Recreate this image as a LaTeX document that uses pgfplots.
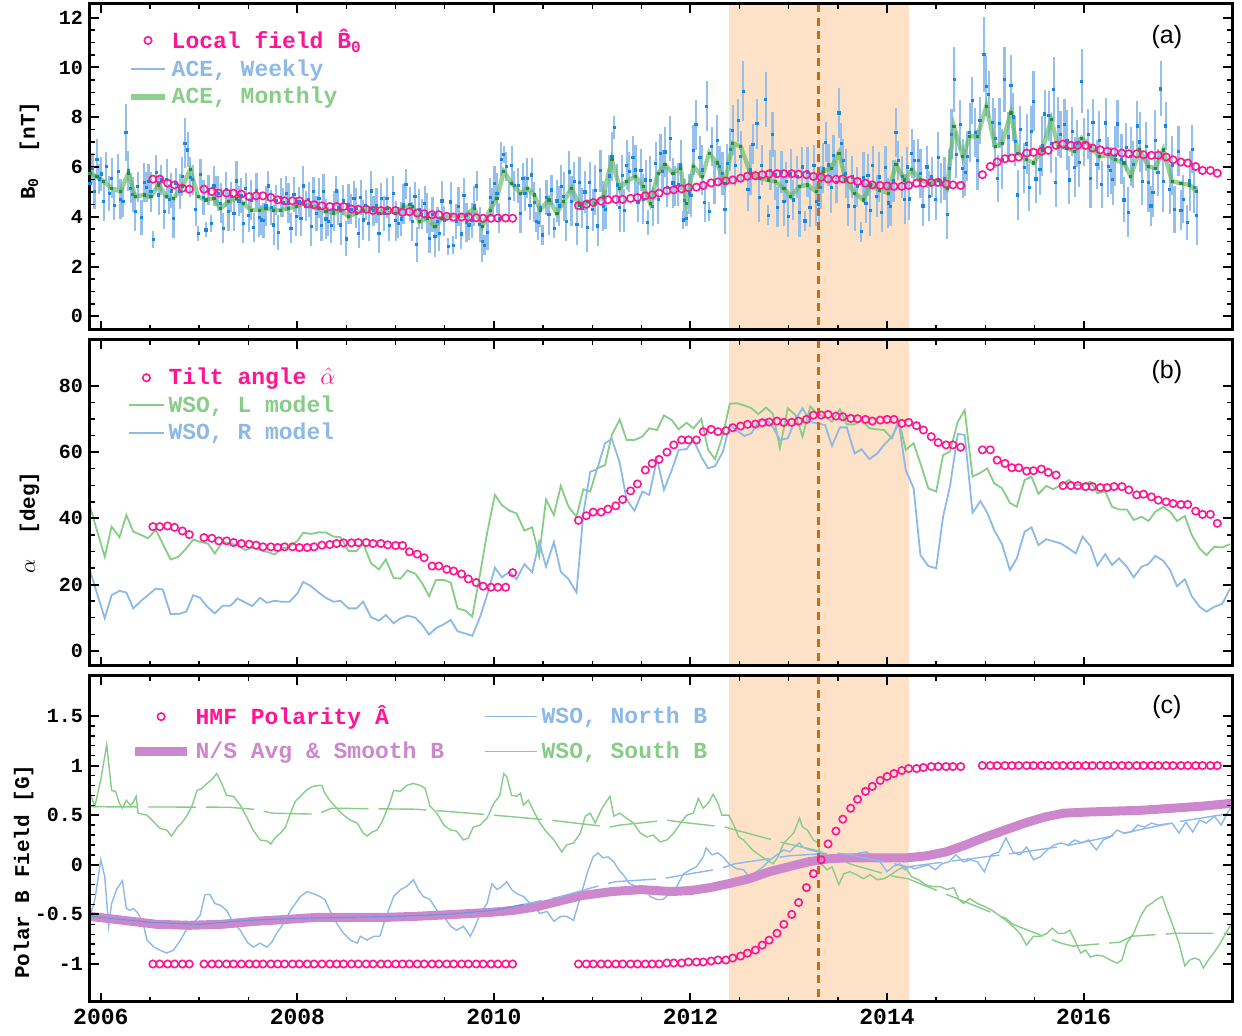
\documentclass[border=0pt]{standalone}
\usepackage{pgfplots}
\pgfplotsset{compat=1.18}
\usepackage{pgfplotstable}
\usepackage{fontspec}
\setmainfont{Liberation Mono}
\newfontfamily\hv{Liberation Sans}
\definecolor{pk}{RGB}{255,20,147}
\definecolor{lb}{RGB}{140,185,232}
\definecolor{lbw}{RGB}{150,192,236}
\definecolor{db}{RGB}{25,135,225}
\definecolor{lg}{RGB}{135,205,135}
\definecolor{mg}{RGB}{95,185,95}
\definecolor{dg}{RGB}{40,140,60}
\definecolor{pu}{RGB}{205,135,205}
\definecolor{nsm}{RGB}{120,140,215}
\definecolor{sh}{RGB}{253,226,200}
\definecolor{dor}{RGB}{205,105,15}

% ---------- circles (Carrington rotations): x, B0, alpha, polarity ----------
\pgfplotstableread{
x b a p
2006.53 5.51 37.5 -1
2006.60 5.51 37.5 -1
2006.68 5.35 37.7 -1
2006.75 5.28 37.3 -1
2006.83 5.15 36.2 -1
2006.90 5.11 35.1 -1
2007.05 5.11 34.2 -1
2007.13 5.01 34.0 -1
2007.20 4.95 33.2 -1
2007.28 4.95 33.2 -1
2007.35 4.95 32.7 -1
2007.43 4.91 32.4 -1
2007.51 4.81 32.2 -1
2007.58 4.84 31.9 -1
2007.65 4.84 31.4 -1
2007.73 4.78 31.4 -1
2007.80 4.68 31.2 -1
2007.87 4.64 31.4 -1
2007.95 4.64 31.4 -1
2008.02 4.64 31.2 -1
2008.10 4.52 31.2 -1
2008.17 4.48 31.4 -1
2008.25 4.44 31.9 -1
2008.33 4.41 32.1 -1
2008.40 4.41 32.4 -1
2008.47 4.41 32.6 -1
2008.55 4.31 32.6 -1
2008.62 4.30 32.7 -1
2008.70 4.30 32.7 -1
2008.77 4.25 32.4 -1
2008.85 4.25 32.4 -1
2008.92 4.25 32.0 -1
2009.00 4.25 31.8 -1
2009.07 4.18 31.8 -1
2009.14 4.20 29.9 -1
2009.22 4.15 29.2 -1
2009.29 4.12 28.1 -1
2009.37 4.08 25.6 -1
2009.44 4.08 25.6 -1
2009.52 4.02 24.6 -1
2009.59 3.99 24.1 -1
2009.67 3.99 23.2 -1
2009.74 3.99 21.7 -1
2009.82 3.96 20.6 -1
2009.89 3.94 19.5 -1
2009.97 3.94 19.2 -1
2010.04 3.95 19.2 -1
2010.12 3.95 19.2 -1
2010.19 3.94 23.6 -1
2010.86 4.45 39.4 -1
2010.94 4.50 40.8 -1
2011.01 4.57 41.9 -1
2011.09 4.63 41.9 -1
2011.16 4.68 42.8 -1
2011.24 4.70 43.8 -1
2011.31 4.70 45.7 -1
2011.39 4.74 48.3 -1
2011.46 4.77 50.4 -1
2011.54 4.84 54.6 -1
2011.61 4.88 56.6 -1
2011.68 4.95 57.8 -1
2011.76 5.05 60.0 -0.99
2011.83 5.08 62.2 -0.99
2011.91 5.12 63.7 -0.99
2011.98 5.17 63.7 -0.98
2012.06 5.19 63.7 -0.98
2012.13 5.26 66.2 -0.98
2012.21 5.36 66.9 -0.97
2012.28 5.40 66.2 -0.96
2012.36 5.44 66.5 -0.96
2012.43 5.48 67.4 -0.94
2012.51 5.55 67.9 -0.92
2012.58 5.63 68.4 -0.89
2012.66 5.65 68.5 -0.86
2012.73 5.69 68.9 -0.81
2012.80 5.72 69.1 -0.76
2012.88 5.73 69.4 -0.69
2012.95 5.73 69.0 -0.60
2013.03 5.73 69.0 -0.50
2013.10 5.71 69.4 -0.38
2013.18 5.69 69.9 -0.23
2013.25 5.62 71.2 -0.09
2013.33 5.59 71.2 0.05
2013.40 5.52 71.4 0.21
2013.48 5.51 70.9 0.34
2013.55 5.52 70.7 0.46
2013.63 5.48 70.2 0.57
2013.70 5.42 70.1 0.66
2013.78 5.35 69.9 0.74
2013.85 5.28 69.4 0.79
2013.93 5.26 69.7 0.85
2014.00 5.24 69.9 0.89
2014.07 5.22 69.9 0.92
2014.15 5.22 68.7 0.95
2014.22 5.26 69.0 0.97
2014.30 5.35 68.0 0.97
2014.37 5.35 66.7 0.98
2014.45 5.38 64.7 0.99
2014.52 5.38 62.9 0.99
2014.60 5.32 62.2 0.99
2014.67 5.28 62.2 0.99
2014.75 5.26 61.5 0.99
2014.97 5.69 60.7 1
2015.05 6.02 60.7 1
2015.12 6.20 57.6 1
2015.20 6.33 56.6 1
2015.27 6.36 55.3 1
2015.34 6.40 55.3 1
2015.42 6.56 54.3 1
2015.49 6.59 54.4 1
2015.57 6.63 54.9 1
2015.64 6.67 53.9 1
2015.72 6.87 53.1 1
2015.79 6.92 49.9 1
2015.87 6.87 49.9 1
2015.94 6.87 49.9 1
2016.02 6.87 49.6 1
2016.09 6.76 49.6 1
2016.17 6.69 49.3 1
2016.24 6.63 49.3 1
2016.31 6.60 49.6 1
2016.39 6.56 49.6 1
2016.46 6.53 48.6 1
2016.54 6.53 47.1 1
2016.61 6.49 47.3 1
2016.69 6.47 46.5 1
2016.76 6.47 45.5 1
2016.84 6.40 45.0 1
2016.91 6.29 44.5 1
2016.99 6.20 44.2 1
2017.06 6.16 44.2 1
2017.14 6.02 42.2 1
2017.21 5.86 41.2 1
2017.29 5.86 41.2 1
2017.36 5.75 38.5 1
}\tabCR

% ---------- ACE monthly ----------
\pgfplotstableread{
x y
2005.89 5.75
2005.96 5.62
2006.03 5.42
2006.11 5.15
2006.20 5.01
2006.28 5.75
2006.35 4.81
2006.44 4.88
2006.51 4.81
2006.59 5.28
2006.67 4.81
2006.74 4.74
2006.83 5.22
2006.91 5.89
2006.99 4.81
2007.07 4.68
2007.15 4.74
2007.22 4.34
2007.30 4.61
2007.38 4.74
2007.45 4.54
2007.53 4.27
2007.61 4.27
2007.68 4.34
2007.76 4.27
2007.83 4.27
2007.91 4.34
2007.99 4.41
2008.06 4.54
2008.14 4.41
2008.22 4.34
2008.29 4.21
2008.37 4.14
2008.44 4.27
2008.52 4.01
2008.60 4.14
2008.67 4.27
2008.75 4.34
2008.83 4.14
2008.91 4.34
2009.00 4.14
2009.08 4.41
2009.17 4.41
2009.24 3.80
2009.32 3.94
2009.40 3.60
2009.47 3.94
2009.56 4.07
2009.64 4.01
2009.72 4.07
2009.80 4.34
2009.88 3.60
2009.96 4.27
2010.03 4.74
2010.10 5.82
2010.18 5.35
2010.27 4.95
2010.34 5.15
2010.41 4.88
2010.47 4.27
2010.56 4.68
2010.64 4.14
2010.71 4.61
2010.79 5.15
2010.87 4.48
2010.95 4.61
2011.03 4.54
2011.11 4.81
2011.20 6.29
2011.28 5.15
2011.35 5.42
2011.44 5.62
2011.52 5.22
2011.59 4.54
2011.67 5.75
2011.74 6.09
2011.82 5.75
2011.90 5.95
2011.96 4.54
2012.03 6.02
2012.12 5.62
2012.19 6.56
2012.27 6.16
2012.35 5.35
2012.43 6.96
2012.51 6.83
2012.61 5.75
2012.70 5.55
2012.79 5.48
2012.86 5.42
2012.95 5.15
2013.02 4.81
2013.11 5.22
2013.19 5.28
2013.28 5.01
2013.35 5.82
2013.43 5.95
2013.51 6.56
2013.58 5.48
2013.67 4.95
2013.76 4.68
2013.83 5.28
2013.92 5.08
2014.01 4.95
2014.09 6.09
2014.18 5.48
2014.25 5.89
2014.34 5.48
2014.43 5.35
2014.52 5.48
2014.61 5.15
2014.68 7.63
2014.77 6.42
2014.84 7.23
2014.92 7.23
2015.01 8.44
2015.10 6.83
2015.17 6.96
2015.26 8.17
2015.33 6.56
2015.42 6.29
2015.49 6.16
2015.58 6.69
2015.67 7.90
2015.74 6.83
2015.83 6.76
2015.91 6.63
2015.98 7.16
2016.07 6.83
2016.16 6.42
2016.25 6.49
2016.32 6.29
2016.41 6.16
2016.48 5.62
2016.57 6.69
2016.66 6.02
2016.73 5.95
2016.81 6.69
2016.90 5.42
2016.99 5.35
2017.08 5.28
2017.15 5.01
}\tabM

% ---------- ACE weekly: x, y, error ----------
\pgfplotstableread{
x y e
2005.865 6.25 0.7
2005.890 5.35 0.8
2005.915 5.95 0.6
2005.935 5.02 0.7
2005.960 6.32 0.8
2005.985 5.52 0.6
2006.005 5.72 0.7
2006.030 4.62 0.8
2006.055 6.02 0.6
2006.085 4.95 0.7
2006.110 5.55 0.8
2006.135 4.45 0.6
2006.175 5.81 0.7
2006.200 4.71 0.8
2006.225 4.61 0.6
2006.255 7.39 1.15
2006.280 5.85 0.8
2006.305 5.15 0.6
2006.325 4.91 0.7
2006.350 4.21 0.8
2006.375 5.21 0.6
2006.415 3.98 0.7
2006.440 5.38 0.8
2006.465 5.18 0.6
2006.485 5.41 0.7
2006.510 5.01 0.8
2006.535 3.09 0.35
2006.565 5.78 0.7
2006.590 4.88 0.8
2006.615 5.48 0.6
2006.645 4.21 0.7
2006.670 5.51 0.8
2006.695 4.71 0.6
2006.715 5.04 0.7
2006.740 3.94 0.8
2006.765 5.34 0.6
2006.805 5.02 0.7
2006.830 5.62 0.8
2006.855 6.96 1.0
2006.885 6.69 0.7
2006.910 5.59 0.8
2006.935 5.49 0.6
2006.965 4.31 0.7
2006.990 3.33 0.3
2007.015 5.71 0.6
2007.045 4.78 0.7
2007.070 3.47 0.3
2007.095 5.08 0.6
2007.125 3.74 0.35
2007.150 5.24 0.8
2007.175 5.04 0.6
2007.195 4.94 0.7
2007.220 4.54 0.8
2007.245 3.54 0.6
2007.275 5.11 0.7
2007.300 4.21 0.8
2007.325 4.81 0.6
2007.355 4.14 0.7
2007.380 5.44 0.8
2007.405 4.64 0.6
2007.425 4.84 0.7
2007.450 3.74 0.8
2007.475 5.14 0.6
2007.505 4.07 0.7
2007.530 4.67 0.8
2007.555 3.57 0.6
2007.585 5.07 0.7
2007.610 3.97 0.8
2007.635 3.87 0.6
2007.655 3.84 0.7
2007.680 4.44 0.8
2007.705 5.24 0.6
2007.735 4.37 0.7
2007.760 3.67 0.8
2007.785 4.67 0.6
2007.805 3.37 0.7
2007.830 4.77 0.8
2007.855 4.57 0.6
2007.885 4.94 0.7
2007.910 4.54 0.8
2007.935 3.54 0.6
2007.965 4.91 0.7
2007.990 4.01 0.8
2008.015 4.61 0.6
2008.035 3.94 0.7
2008.060 5.24 0.8
2008.085 4.44 0.6
2008.115 4.71 0.7
2008.140 3.61 0.8
2008.165 5.01 0.6
2008.195 4.14 0.7
2008.220 4.74 0.8
2008.245 3.64 0.6
2008.265 5.01 0.7
2008.290 3.91 0.8
2008.315 3.81 0.6
2008.345 3.64 0.7
2008.370 4.24 0.8
2008.395 5.04 0.6
2008.415 4.37 0.7
2008.440 3.67 0.8
2008.465 4.67 0.6
2008.495 3.11 0.7
2008.520 4.51 0.8
2008.545 4.31 0.6
2008.575 4.74 0.7
2008.600 4.34 0.8
2008.625 3.34 0.6
2008.645 4.77 0.7
2008.670 3.87 0.8
2008.695 4.47 0.6
2008.725 3.74 0.7
2008.750 5.04 0.8
2008.775 4.24 0.6
2008.805 4.44 0.7
2008.830 3.34 0.8
2008.855 4.74 0.6
2008.885 4.14 0.7
2008.910 4.74 0.8
2008.935 3.64 0.6
2008.975 4.94 0.7
2009.000 3.84 0.8
2009.025 3.74 0.6
2009.055 3.91 0.7
2009.080 4.51 0.8
2009.105 5.31 0.6
2009.145 4.51 0.7
2009.170 3.81 0.8
2009.195 4.81 0.6
2009.215 2.90 0.7
2009.240 4.30 0.8
2009.265 4.10 0.6
2009.295 4.54 0.7
2009.320 4.14 0.8
2009.345 3.14 0.6
2009.375 4.10 0.7
2009.400 3.20 0.8
2009.425 3.80 0.6
2009.445 3.34 0.7
2009.470 4.64 0.8
2009.495 3.84 0.6
2009.535 2.80 0.35
2009.560 4.60 0.8
2009.585 2.86 0.35
2009.615 3.81 0.7
2009.640 4.41 0.8
2009.665 3.31 0.6
2009.695 4.87 0.7
2009.720 3.77 0.8
2009.745 3.67 0.6
2009.775 3.84 0.7
2009.800 4.44 0.8
2009.825 5.24 0.6
2009.855 3.70 0.7
2009.880 3.00 0.8
2009.905 2.86 0.4
2009.935 3.37 0.7
2009.960 4.77 0.8
2009.985 4.57 0.6
2010.005 5.34 0.7
2010.030 4.94 0.8
2010.055 3.94 0.6
2010.075 6.32 0.7
2010.100 6.49 0.35
2010.125 6.02 0.6
2010.155 4.75 0.7
2010.180 6.05 0.8
2010.205 5.25 0.6
2010.245 5.25 0.7
2010.270 4.15 0.8
2010.295 5.55 0.6
2010.315 4.95 0.7
2010.340 5.55 0.8
2010.365 4.45 0.6
2010.385 5.68 0.7
2010.410 4.58 0.8
2010.430 3.80 0.4
2010.450 3.77 0.7
2010.470 4.37 0.8
2010.495 3.27 0.4
2010.535 4.78 0.7
2010.560 4.08 0.8
2010.585 5.08 0.6
2010.615 3.53 0.4
2010.640 4.64 0.85
2010.665 4.44 0.8
2010.685 5.21 0.85
2010.710 4.81 1.0
2010.735 3.81 0.8
2010.765 5.80 0.85
2010.790 4.63 1.0
2010.815 5.41 0.8
2010.845 3.70 0.85
2010.870 5.39 1.0
2010.895 4.35 0.8
2010.925 5.00 0.85
2010.950 3.57 1.0
2010.975 5.39 0.8
2011.005 4.28 0.85
2011.030 5.06 1.0
2011.055 3.63 0.8
2011.085 5.85 0.85
2011.110 4.42 1.0
2011.135 4.29 0.8
2011.175 5.64 0.85
2011.200 6.42 1.0
2011.225 7.59 0.45
2011.255 5.28 0.85
2011.280 4.37 1.0
2011.305 5.67 0.8
2011.325 4.25 0.85
2011.350 6.07 1.0
2011.375 5.81 0.8
2011.415 6.40 0.85
2011.440 5.88 1.0
2011.465 4.58 0.8
2011.495 5.87 0.85
2011.520 4.70 1.0
2011.545 5.48 0.8
2011.565 3.76 0.5
2011.590 5.45 1.0
2011.615 4.41 0.8
2011.645 6.14 0.85
2011.670 4.71 1.0
2011.695 6.53 0.8
2011.715 5.83 0.85
2011.740 6.61 1.0
2011.765 5.18 0.8
2011.795 7.16 0.9
2011.820 5.36 1.0
2011.845 5.23 0.8
2011.875 5.30 0.85
2011.900 6.08 1.0
2011.925 3.87 0.35
2011.940 4.67 0.85
2011.960 3.94 0.3
2011.985 4.93 0.8
2012.005 4.85 0.85
2012.030 6.67 1.0
2012.055 7.70 1.0
2012.095 6.40 0.85
2012.120 5.88 1.0
2012.145 4.58 0.8
2012.165 8.44 1.0
2012.190 4.21 0.4
2012.215 6.82 0.8
2012.245 5.38 0.85
2012.270 7.07 1.0
2012.295 6.03 0.8
2012.325 5.74 0.85
2012.350 4.31 1.0
2012.375 6.13 0.8
2012.405 6.70 0.85
2012.430 7.48 1.0
2012.455 6.05 0.8
2012.485 7.87 0.85
2012.510 6.44 1.0
2012.535 9.05 1.2
2012.585 5.10 0.85
2012.610 5.88 1.0
2012.635 6.92 0.8
2012.675 7.74 1.0
2012.700 4.77 1.0
2012.725 6.07 0.8
2012.765 8.71 1.1
2012.790 4.07 0.4
2012.815 5.87 0.8
2012.835 7.30 0.9
2012.860 5.68 1.0
2012.885 4.38 0.8
2012.925 5.80 0.85
2012.950 4.63 1.0
2012.975 5.41 0.8
2012.995 4.03 0.85
2013.020 5.72 1.0
2013.045 4.68 0.8
2013.085 5.61 0.85
2013.110 4.18 1.0
2013.135 6.00 0.8
2013.165 3.83 0.4
2013.190 5.80 1.0
2013.215 4.37 0.8
2013.255 6.05 0.85
2013.280 4.62 1.0
2013.305 4.49 0.8
2013.325 5.17 0.85
2013.350 5.95 1.0
2013.375 6.99 0.8
2013.405 6.08 0.85
2013.430 5.17 1.0
2013.455 6.47 0.8
2013.485 5.39 0.85
2013.510 8.17 1.0
2013.535 6.95 0.8
2013.555 6.26 0.85
2013.580 5.74 1.0
2013.605 4.44 0.8
2013.645 5.60 0.85
2013.670 4.43 1.0
2013.695 5.21 0.8
2013.735 3.40 0.4
2013.760 5.59 1.0
2013.785 4.55 0.8
2013.805 5.67 0.85
2013.830 4.24 1.0
2013.855 6.06 0.8
2013.895 4.82 0.85
2013.920 5.60 1.0
2013.945 4.17 0.8
2013.985 5.99 0.85
2014.010 4.56 1.0
2014.035 4.43 0.8
2014.065 5.44 0.85
2014.090 7.39 1.0
2014.115 6.26 0.8
2014.155 5.61 0.85
2014.180 4.70 1.0
2014.205 6.00 0.8
2014.225 4.72 0.85
2014.250 6.54 1.0
2014.275 6.28 0.8
2014.315 6.26 0.85
2014.340 5.74 1.0
2014.365 4.44 0.8
2014.405 6.00 0.85
2014.430 4.83 1.0
2014.455 5.61 0.8
2014.495 4.70 0.85
2014.520 6.39 1.0
2014.545 5.35 0.8
2014.585 5.54 0.85
2014.610 4.11 1.0
2014.635 5.93 0.8
2014.655 7.31 1.0
2014.685 9.52 1.3
2014.705 6.51 0.95
2014.745 7.70 1.0
2014.770 5.94 1.2
2014.795 5.78 0.95
2014.815 6.43 1.0
2014.840 7.39 1.2
2014.865 8.67 0.95
2014.895 7.39 1.0
2014.920 6.27 1.2
2014.945 7.87 0.95
2014.985 10.52 1.5
2015.010 9.24 1.2
2015.035 8.92 0.95
2015.075 7.79 1.0
2015.100 7.15 1.2
2015.125 5.55 0.95
2015.145 7.76 1.0
2015.170 6.32 1.2
2015.195 9.52 1.3
2015.235 7.21 1.0
2015.260 9.29 1.2
2015.285 8.01 0.95
2015.305 7.04 1.0
2015.330 4.88 1.0
2015.355 7.52 0.95
2015.395 5.97 1.0
2015.420 6.93 1.2
2015.445 5.17 0.95
2015.465 7.44 1.0
2015.490 8.64 1.2
2015.515 5.52 0.95
2015.555 5.89 1.0
2015.580 6.85 1.2
2015.605 8.13 0.95
2015.645 8.06 1.0
2015.670 6.94 1.2
2015.695 9.11 1.3
2015.715 5.39 1.0
2015.740 7.63 1.2
2015.765 7.31 0.95
2015.805 7.72 1.0
2015.830 7.08 1.2
2015.855 5.48 0.95
2015.885 7.43 1.0
2015.910 5.99 1.2
2015.935 6.95 0.95
2015.955 6.20 1.0
2015.980 9.45 1.3
2016.005 7.00 0.95
2016.045 7.31 1.0
2016.070 5.55 1.2
2016.095 7.79 0.95
2016.135 6.10 1.0
2016.160 7.06 1.2
2016.185 5.30 0.95
2016.225 7.77 1.0
2016.250 6.01 1.2
2016.275 5.85 0.95
2016.295 5.49 1.0
2016.320 6.45 1.2
2016.345 7.73 0.95
2016.385 6.32 1.0
2016.410 4.68 0.9
2016.435 6.80 0.95
2016.455 4.18 1.0
2016.480 6.42 1.2
2016.505 6.10 0.95
2016.545 7.65 1.0
2016.570 7.01 1.2
2016.595 5.41 0.95
2016.635 6.82 1.0
2016.660 5.38 1.2
2016.685 4.44 0.8
2016.705 4.99 1.0
2016.730 7.07 1.2
2016.755 5.79 0.95
2016.785 9.14 1.1
2016.810 5.41 1.2
2016.835 7.65 0.95
2016.875 5.10 1.0
2016.900 6.06 1.2
2016.925 4.30 0.95
2016.965 6.63 1.0
2016.990 4.27 0.8
2017.015 4.71 0.95
2017.055 3.76 0.7
2017.080 5.44 1.2
2017.105 6.72 0.95
2017.125 5.17 1.0
2017.150 4.05 1.2
}\tabW

% ---------- WSO tilt, L model ----------
\pgfplotstableread{
x y
2005.89 43.5
2006.04 28.4
2006.11 37.5
2006.19 34.3
2006.26 41.0
2006.33 36.0
2006.41 35.0
2006.48 34.0
2006.56 36.5
2006.71 27.6
2006.79 28.4
2006.87 30.9
2006.94 33.6
2007.01 32.9
2007.09 32.4
2007.16 29.4
2007.24 32.9
2007.32 32.4
2007.39 31.9
2007.47 30.4
2007.54 31.2
2007.62 30.4
2007.69 29.9
2007.77 29.1
2007.84 30.9
2007.92 31.4
2008.00 33.2
2008.06 35.7
2008.14 35.3
2008.22 35.8
2008.29 35.7
2008.37 34.5
2008.44 34.3
2008.52 30.1
2008.60 30.1
2008.67 32.4
2008.75 26.4
2008.83 24.6
2008.90 27.6
2008.98 22.0
2009.05 21.8
2009.12 24.3
2009.20 23.3
2009.27 20.4
2009.34 16.5
2009.41 21.4
2009.49 21.4
2009.56 20.6
2009.63 12.8
2009.71 12.1
2009.78 10.3
2009.86 23.4
2009.93 35.5
2010.01 47.1
2010.08 44.0
2010.16 42.3
2010.23 41.5
2010.31 36.3
2010.39 37.3
2010.46 28.6
2010.53 45.7
2010.61 41.0
2010.68 49.8
2010.76 43.5
2010.84 40.5
2010.91 48.8
2010.98 48.1
2011.05 55.1
2011.13 56.1
2011.20 65.2
2011.28 69.9
2011.35 63.7
2011.43 63.7
2011.51 64.7
2011.58 67.2
2011.66 66.7
2011.73 71.1
2011.81 69.7
2011.88 66.9
2011.96 68.9
2012.03 67.2
2012.11 70.0
2012.18 60.7
2012.25 57.9
2012.33 65.2
2012.40 74.6
2012.47 74.8
2012.55 74.1
2012.62 73.3
2012.69 71.5
2012.77 73.5
2012.84 71.5
2012.91 61.2
2012.99 73.3
2013.07 71.2
2013.14 64.7
2013.22 73.8
2013.29 71.5
2013.37 70.7
2013.44 69.2
2013.52 73.0
2013.59 68.4
2013.67 68.4
2013.74 69.7
2013.82 67.2
2013.90 66.9
2013.97 66.7
2014.05 64.2
2014.12 69.7
2014.19 60.7
2014.27 62.7
2014.34 56.6
2014.42 49.1
2014.50 48.1
2014.57 59.1
2014.64 60.2
2014.72 69.2
2014.79 72.7
2014.87 52.6
2014.95 53.8
2015.02 55.1
2015.09 50.6
2015.17 49.1
2015.25 44.7
2015.32 43.5
2015.40 51.6
2015.47 52.6
2015.54 47.4
2015.62 49.8
2015.69 48.8
2015.77 50.1
2015.85 51.6
2015.92 50.1
2015.99 50.1
2016.07 51.1
2016.14 47.6
2016.22 48.1
2016.29 43.5
2016.36 42.7
2016.44 42.7
2016.51 39.5
2016.59 40.5
2016.66 39.2
2016.73 42.0
2016.81 43.5
2016.88 42.0
2016.95 39.2
2017.03 40.7
2017.10 35.0
2017.18 30.9
2017.25 28.9
2017.33 31.4
2017.41 31.2
2017.49 32.2
}\tabL

% ---------- WSO tilt, R model ----------
\pgfplotstableread{
x y
2005.89 24.2
2006.04 9.8
2006.11 16.8
2006.19 18.1
2006.26 17.6
2006.33 12.8
2006.41 15.1
2006.48 16.8
2006.56 18.8
2006.63 18.5
2006.71 11.1
2006.79 11.1
2006.87 11.8
2006.94 16.8
2007.01 16.0
2007.09 13.1
2007.16 11.3
2007.24 13.6
2007.32 13.6
2007.39 15.8
2007.47 14.6
2007.54 13.5
2007.62 16.0
2007.69 14.5
2007.77 15.1
2007.84 14.8
2007.92 14.8
2008.00 17.3
2008.06 20.8
2008.14 19.5
2008.22 17.5
2008.29 16.0
2008.37 14.8
2008.44 15.1
2008.52 12.8
2008.60 12.8
2008.67 14.8
2008.75 10.1
2008.83 9.1
2008.90 10.8
2008.98 8.3
2009.05 9.8
2009.12 10.6
2009.20 10.0
2009.27 7.8
2009.34 4.9
2009.41 6.8
2009.49 8.0
2009.56 9.3
2009.63 5.9
2009.71 5.2
2009.78 4.5
2009.86 10.3
2009.93 16.8
2010.01 25.1
2010.08 22.2
2010.16 23.9
2010.23 21.6
2010.31 26.2
2010.39 23.7
2010.46 32.9
2010.53 25.4
2010.61 32.9
2010.68 23.9
2010.76 21.6
2010.84 17.6
2010.91 41.5
2010.98 54.1
2011.05 54.8
2011.13 62.7
2011.20 64.0
2011.28 56.8
2011.35 45.7
2011.43 42.3
2011.51 48.1
2011.58 47.1
2011.66 57.9
2011.73 48.6
2011.81 54.6
2011.88 60.7
2011.96 60.9
2012.03 63.7
2012.11 58.6
2012.18 55.1
2012.25 55.8
2012.33 60.2
2012.40 68.2
2012.47 66.5
2012.55 64.9
2012.62 65.7
2012.69 69.2
2012.77 69.9
2012.84 67.5
2012.91 63.7
2012.99 64.2
2013.07 70.0
2013.14 73.3
2013.22 69.2
2013.29 68.7
2013.37 68.2
2013.44 61.9
2013.52 67.5
2013.59 67.5
2013.67 59.6
2013.74 60.9
2013.82 57.9
2013.90 59.6
2013.97 62.2
2014.05 64.7
2014.12 68.7
2014.19 54.6
2014.27 49.1
2014.34 28.9
2014.42 25.6
2014.50 24.9
2014.57 40.5
2014.64 49.6
2014.72 65.5
2014.79 65.2
2014.87 41.7
2014.95 45.2
2015.02 41.7
2015.09 36.5
2015.17 32.2
2015.25 24.4
2015.32 27.9
2015.40 36.0
2015.47 37.3
2015.54 31.9
2015.62 33.7
2015.69 33.1
2015.77 32.4
2015.85 30.9
2015.92 29.4
2015.99 34.5
2016.07 31.6
2016.14 25.7
2016.22 29.2
2016.29 25.9
2016.36 27.9
2016.44 25.4
2016.51 22.2
2016.59 25.4
2016.66 26.2
2016.73 28.7
2016.81 27.2
2016.88 24.4
2016.95 19.5
2017.03 21.6
2017.10 16.5
2017.18 13.3
2017.25 11.8
2017.33 13.3
2017.41 14.1
2017.49 18.8
}\tabR

% ---------- WSO South polar field ----------
\pgfplotstableread{
x y
2005.89 0.72
2005.94 0.59
2006.00 0.86
2006.06 1.21
2006.11 0.75
2006.15 0.74
2006.19 0.62
2006.22 0.57
2006.26 0.65
2006.30 0.60
2006.33 0.63
2006.36 0.69
2006.38 0.52
2006.47 0.50
2006.54 0.43
2006.60 0.37
2006.67 0.35
2006.72 0.29
2006.78 0.38
2006.83 0.43
2006.88 0.50
2006.93 0.60
2006.98 0.75
2007.03 0.77
2007.08 0.82
2007.13 0.86
2007.18 0.92
2007.23 0.82
2007.28 0.70
2007.35 0.69
2007.42 0.60
2007.49 0.47
2007.55 0.35
2007.62 0.25
2007.69 0.24
2007.73 0.21
2007.78 0.28
2007.83 0.32
2007.88 0.38
2007.93 0.52
2007.98 0.64
2008.03 0.69
2008.10 0.76
2008.16 0.79
2008.22 0.80
2008.25 0.80
2008.28 0.72
2008.33 0.65
2008.40 0.57
2008.47 0.50
2008.54 0.45
2008.61 0.42
2008.67 0.32
2008.71 0.29
2008.76 0.33
2008.81 0.35
2008.86 0.43
2008.91 0.55
2008.94 0.62
2008.98 0.75
2009.05 0.74
2009.11 0.80
2009.18 0.82
2009.25 0.80
2009.30 0.77
2009.35 0.59
2009.42 0.52
2009.49 0.40
2009.56 0.35
2009.62 0.34
2009.69 0.25
2009.74 0.27
2009.79 0.38
2009.86 0.40
2009.93 0.47
2010.00 0.62
2010.06 0.70
2010.10 0.92
2010.13 0.89
2010.18 0.70
2010.23 0.69
2010.27 0.72
2010.30 0.60
2010.35 0.65
2010.40 0.55
2010.45 0.45
2010.52 0.35
2010.61 0.25
2010.69 0.13
2010.74 0.20
2010.81 0.22
2010.88 0.32
2010.93 0.49
2010.98 0.52
2011.03 0.42
2011.10 0.57
2011.18 0.69
2011.22 0.49
2011.28 0.52
2011.35 0.47
2011.42 0.42
2011.49 0.32
2011.56 0.28
2011.62 0.30
2011.69 0.23
2011.76 0.25
2011.83 0.32
2011.90 0.42
2011.96 0.50
2012.03 0.52
2012.08 0.67
2012.13 0.57
2012.18 0.62
2012.23 0.71
2012.28 0.62
2012.32 0.50
2012.39 0.50
2012.45 0.38
2012.49 0.28
2012.54 0.25
2012.63 0.15
2012.70 0.10
2012.77 0.05
2012.84 0.01
2012.89 0.08
2012.95 0.22
2013.00 0.27
2013.05 0.32
2013.11 0.47
2013.14 0.38
2013.19 0.35
2013.25 0.25
2013.30 0.22
2013.33 0.01
2013.39 -0.05
2013.44 -0.02
2013.51 -0.20
2013.56 -0.09
2013.62 -0.07
2013.69 -0.10
2013.76 -0.14
2013.83 -0.10
2013.90 -0.15
2013.97 -0.14
2014.04 -0.10
2014.11 -0.05
2014.18 -0.02
2014.25 -0.12
2014.32 -0.15
2014.39 -0.20
2014.46 -0.22
2014.54 -0.22
2014.61 -0.25
2014.68 -0.23
2014.73 -0.35
2014.78 -0.39
2014.84 -0.34
2014.92 -0.39
2014.99 -0.42
2015.07 -0.46
2015.14 -0.51
2015.21 -0.56
2015.28 -0.62
2015.35 -0.69
2015.42 -0.81
2015.49 -0.72
2015.56 -0.72
2015.63 -0.69
2015.68 -0.64
2015.74 -0.69
2015.81 -0.69
2015.86 -0.66
2015.91 -0.76
2015.97 -0.89
2016.02 -0.86
2016.07 -0.93
2016.13 -0.91
2016.20 -0.92
2016.27 -0.96
2016.34 -0.99
2016.39 -0.96
2016.44 -0.79
2016.51 -0.69
2016.58 -0.52
2016.64 -0.42
2016.69 -0.39
2016.74 -0.35
2016.80 -0.32
2016.85 -0.46
2016.90 -0.59
2016.97 -0.79
2017.03 -1.02
2017.08 -0.96
2017.13 -0.94
2017.18 -0.96
2017.22 -1.04
2017.27 -0.96
2017.33 -0.88
2017.38 -0.81
2017.43 -0.72
2017.50 -0.60
}\tabS

% ---------- WSO North polar field ----------
\pgfplotstableread{
x y
2005.89 -0.52
2005.94 -0.35
2006.00 0.05
2006.04 -0.12
2006.08 -0.62
2006.11 -0.39
2006.16 -0.25
2006.22 -0.16
2006.26 -0.44
2006.30 -0.46
2006.33 -0.44
2006.38 -0.49
2006.43 -0.59
2006.47 -0.76
2006.54 -0.83
2006.60 -0.86
2006.67 -0.89
2006.74 -0.86
2006.81 -0.76
2006.88 -0.64
2006.94 -0.59
2007.01 -0.51
2007.06 -0.30
2007.11 -0.30
2007.16 -0.39
2007.22 -0.41
2007.28 -0.46
2007.35 -0.59
2007.42 -0.66
2007.49 -0.78
2007.55 -0.83
2007.62 -0.79
2007.69 -0.83
2007.74 -0.78
2007.79 -0.69
2007.86 -0.59
2007.93 -0.46
2007.98 -0.39
2008.03 -0.32
2008.10 -0.27
2008.16 -0.29
2008.23 -0.32
2008.28 -0.35
2008.33 -0.46
2008.40 -0.59
2008.47 -0.69
2008.54 -0.76
2008.61 -0.79
2008.64 -0.72
2008.71 -0.76
2008.78 -0.72
2008.84 -0.72
2008.89 -0.56
2008.98 -0.32
2009.05 -0.25
2009.11 -0.22
2009.18 -0.15
2009.23 -0.25
2009.28 -0.32
2009.35 -0.35
2009.42 -0.46
2009.49 -0.52
2009.56 -0.62
2009.62 -0.66
2009.69 -0.62
2009.76 -0.72
2009.81 -0.62
2009.86 -0.49
2009.93 -0.39
2009.98 -0.19
2010.03 -0.25
2010.08 -0.22
2010.13 -0.17
2010.18 -0.25
2010.23 -0.29
2010.30 -0.32
2010.37 -0.39
2010.44 -0.46
2010.47 -0.49
2010.54 -0.47
2010.61 -0.57
2010.68 -0.52
2010.74 -0.52
2010.81 -0.56
2010.86 -0.39
2010.91 -0.22
2010.96 -0.05
2011.01 0.08
2011.06 0.12
2011.11 0.07
2011.16 0.08
2011.22 0.03
2011.27 -0.05
2011.33 -0.12
2011.38 -0.19
2011.45 -0.22
2011.52 -0.22
2011.59 -0.32
2011.66 -0.35
2011.72 -0.35
2011.79 -0.29
2011.86 -0.22
2011.93 -0.09
2012.00 -0.05
2012.06 -0.02
2012.13 0.08
2012.16 0.17
2012.22 0.10
2012.28 0.12
2012.33 0.08
2012.40 0.00
2012.47 -0.04
2012.54 -0.05
2012.61 -0.14
2012.67 -0.07
2012.74 -0.02
2012.81 0.05
2012.88 0.10
2012.95 0.15
2013.01 0.13
2013.08 0.20
2013.11 0.22
2013.14 0.18
2013.21 0.15
2013.30 0.13
2013.36 0.10
2013.44 0.05
2013.51 0.08
2013.58 0.10
2013.65 0.10
2013.72 0.12
2013.79 0.13
2013.86 0.08
2013.93 0.03
2014.00 -0.07
2014.06 -0.02
2014.13 0.01
2014.18 -0.05
2014.23 -0.02
2014.28 -0.04
2014.35 -0.02
2014.42 0.00
2014.49 -0.05
2014.56 0.01
2014.63 0.03
2014.70 0.10
2014.78 0.03
2014.85 0.05
2014.92 0.03
2014.99 -0.07
2015.06 0.10
2015.14 0.13
2015.21 0.27
2015.28 0.13
2015.35 0.10
2015.42 0.18
2015.49 0.05
2015.56 0.08
2015.63 0.15
2015.70 0.20
2015.77 0.22
2015.84 0.20
2015.91 0.25
2015.98 0.22
2016.05 0.25
2016.13 0.15
2016.20 0.25
2016.27 0.28
2016.34 0.35
2016.41 0.32
2016.48 0.33
2016.55 0.40
2016.62 0.38
2016.69 0.42
2016.76 0.40
2016.83 0.41
2016.90 0.42
2016.97 0.32
2017.04 0.43
2017.11 0.33
2017.18 0.45
2017.25 0.42
2017.33 0.49
2017.40 0.40
2017.46 0.52
2017.51 0.59
}\tabN

% ---------- smoothed fields ----------
\pgfplotstableread{
x y
2005.89 -0.52
2006.23 -0.56
2006.57 -0.60
2006.90 -0.61
2007.23 -0.60
2007.57 -0.57
2007.90 -0.55
2008.20 -0.53
2008.50 -0.53
2008.90 -0.53
2009.20 -0.52
2009.60 -0.50
2009.96 -0.48
2010.20 -0.46
2010.45 -0.42
2010.69 -0.36
2010.90 -0.31
2011.20 -0.27
2011.50 -0.25
2011.80 -0.27
2012.00 -0.26
2012.20 -0.23
2012.39 -0.19
2012.60 -0.14
2012.80 -0.07
2013.00 -0.02
2013.20 0.03
2013.40 0.06
2013.60 0.07
2013.80 0.07
2014.00 0.07
2014.20 0.07
2014.40 0.09
2014.60 0.13
2014.80 0.20
2015.00 0.28
2015.20 0.35
2015.40 0.42
2015.60 0.48
2015.80 0.52
2016.00 0.53
2016.30 0.54
2016.60 0.55
2016.90 0.57
2017.20 0.59
2017.51 0.62
}\tabAvg

\pgfplotstableread{
x y
2005.89 -0.52
2006.50 -0.58
2007.00 -0.60
2007.50 -0.56
2008.00 -0.54
2008.50 -0.53
2009.00 -0.52
2009.50 -0.50
2010.00 -0.46
2010.30 -0.40
2010.68 -0.32
2011.11 -0.20
2011.24 -0.17
2011.72 -0.14
2011.94 -0.10
2012.30 -0.04
2012.45 0.01
2013.00 0.09
2013.48 0.12
2013.62 0.10
2014.07 0.01
2014.21 -0.02
2014.60 0.03
2015.00 0.08
2015.40 0.13
2015.87 0.20
2016.20 0.27
2016.60 0.36
2017.00 0.44
2017.51 0.52
}\tabNs

\pgfplotstableread{
x y
2005.89 0.585
2007.30 0.58
2007.55 0.56
2007.75 0.52
2008.20 0.51
2008.35 0.57
2009.20 0.56
2009.50 0.54
2010.00 0.50
2010.57 0.45
2011.18 0.38
2011.28 0.40
2011.76 0.45
2011.90 0.43
2012.35 0.38
2012.95 0.22
2013.30 0.14
2013.65 0.00
2014.08 -0.12
2014.21 -0.14
2015.21 -0.54
2015.28 -0.60
2015.77 -0.79
2015.89 -0.82
2016.37 -0.78
2016.49 -0.72
2016.95 -0.69
2017.51 -0.69
}\tabSs

\pgfplotsset{
  panel/.style={
    width=571pt, height=163pt, scale only axis,
    xmin=2005.89, xmax=2017.51,
    axis on top,
    axis line style={line width=1.5pt},
    tick align=inside,
    major tick length=4.5pt, minor tick length=2.6pt,
    major tick style={line width=1pt, black},
    minor tick style={line width=0.7pt, black},
    xtick={2006,2008,...,2016}, minor x tick num=3,
    xticklabel style={font=\fontsize{11.5}{12}\selectfont\bfseries},
    yticklabel style={font=\fontsize{10}{12}\selectfont\bfseries},
    /pgf/number format/assume math mode=true,
    /pgf/number format/1000 sep={},
    ylabel style={font=\fontsize{10.5}{12}\selectfont\bfseries, anchor=center},
    legend cell align=left,
    legend style={draw=none, fill=none, font=\fontsize{11.5}{12}\selectfont\bfseries, anchor=north west},
  },
  circ/.style={only marks, mark=o, pk, mark size=1.85pt, mark options={fill=white, line width=0.8pt}},
}

\begin{document}
\begin{tikzpicture}

% ================= (a) =================
\begin{axis}[panel, at={(0pt,336pt)},
  ymin=-0.55, ymax=12.55, ytick={0,2,...,12}, minor y tick num=3,
  xticklabels={},
  ylabel={B\textsubscript{0}\ \ [nT]},
  ylabel style={at={(axis description cs:-0.053,0.55)}},
  legend style={at={(0.028,0.948)}}]
\addlegendimage{circ}
\addlegendentry{\textcolor{pk}{Local field \^{B}\textsubscript{0}}}
\addlegendimage{lb, line width=1pt}
\addlegendentry{\textcolor{lb}{ACE, Weekly}}
\addlegendimage{mg, line width=2.6pt, opacity=0.7}
\addlegendentry{\textcolor{lg}{ACE, Monthly}}
\fill[sh] (axis cs:2012.39,-50) rectangle (axis cs:2014.22,50);
\addplot[only marks, mark=square*, mark size=0.55pt, color=db, forget plot,
  error bars/.cd, y dir=both, y explicit, error mark=none,
  error bar style={lbw, line width=1.1pt}]
  table[x=x, y=y, y error=e] {\tabW};
\addplot[mg, line width=2.2pt, opacity=0.65, forget plot] table[x=x,y=y] {\tabM};
\addplot[only marks, mark=square*, mark size=0.55pt, dg, forget plot] table[x=x,y=y] {\tabM};
\draw[dor, line width=1.5pt, dash pattern=on 4pt off 2.8pt] (axis cs:2013.30,12.55) -- (axis cs:2013.30,-0.55);
\addplot[circ, forget plot] table[x=x, y=b] {\tabCR};
\node[font=\fontsize{12.5}{14}\selectfont\hv] at (rel axis cs:0.943,0.899) {(a)};
\end{axis}

% ================= (b) =================
\begin{axis}[panel, at={(0pt,168pt)},
  ymin=-4.6, ymax=93.9, ytick={0,20,...,80}, minor y tick num=3,
  xticklabels={},
  ylabel={$\alpha$\ \ [deg]},
  ylabel style={at={(axis description cs:-0.053,0.44)}},
  legend style={at={(0.028,0.94)}}]
\addlegendimage{circ}
\addlegendentry{\textcolor{pk}{Tilt angle $\hat{\alpha}$}}
\addlegendimage{lg, line width=1pt}
\addlegendentry{\textcolor{lg}{WSO, L model}}
\addlegendimage{lb, line width=1pt}
\addlegendentry{\textcolor{lb}{WSO, R model}}
\fill[sh] (axis cs:2012.39,-50) rectangle (axis cs:2014.22,150);
\addplot[lg, line width=0.9pt, forget plot] table[x=x,y=y] {\tabL};
\addplot[lb, line width=0.9pt, forget plot] table[x=x,y=y] {\tabR};
\draw[dor, line width=1.5pt, dash pattern=on 4pt off 2.8pt] (axis cs:2013.30,93.9) -- (axis cs:2013.30,-4.6);
\addplot[circ, forget plot] table[x=x, y=a] {\tabCR};
\node[font=\fontsize{12.5}{14}\selectfont\hv] at (rel axis cs:0.943,0.902) {(b)};
\end{axis}

% ================= (c) =================
\begin{axis}[panel, at={(0pt,0pt)},
  ymin=-1.383, ymax=1.903, ytick={-1,-0.5,0,0.5,1,1.5}, minor y tick num=4,
  ylabel={Polar B Field [G]},
  ylabel style={at={(axis description cs:-0.058,0.40)}},
  legend columns=2,
  legend image code/.code={\draw[mark repeat=2,mark phase=2,#1] plot coordinates {(0pt,0pt) (13pt,0pt) (26pt,0pt)};},
  legend style={at={(0.03,0.935)}, /tikz/every even column/.append style={column sep=18pt}, /tikz/row sep=3pt}]
\addlegendimage{circ}
\addlegendentry{\textcolor{pk}{HMF Polarity \^{A}}}
\addlegendimage{lb, line width=0.8pt}
\addlegendentry{\textcolor{lb}{WSO, North B}}
\addlegendimage{pu, line width=4.5pt}
\addlegendentry{\textcolor{pu}{N/S Avg \& Smooth B}}
\addlegendimage{lg, line width=0.8pt}
\addlegendentry{\textcolor{lg}{WSO, South B}}
\fill[sh] (axis cs:2012.39,-5) rectangle (axis cs:2014.22,5);
\addplot[lg, line width=0.7pt, forget plot] table[x=x,y=y] {\tabS};
\addplot[lg, line width=0.7pt, dash pattern=on 24pt off 5pt, forget plot] table[x=x,y=y] {\tabSs};
\addplot[lb, line width=0.7pt, forget plot] table[x=x,y=y] {\tabN};
\addplot[pu, line width=4.5pt, forget plot] table[x=x,y=y] {\tabAvg};
\addplot[lb, line width=0.7pt, dash pattern=on 24pt off 5pt, forget plot] table[x=x,y=y] {\tabNs};
\addplot[nsm, line width=0.6pt, restrict x to domain=2005:2010.3, forget plot] table[x=x,y=y] {\tabNs};
\draw[dor, line width=1.5pt, dash pattern=on 4pt off 2.8pt] (axis cs:2013.30,1.903) -- (axis cs:2013.30,-1.383);
\addplot[circ, forget plot] table[x=x, y=p] {\tabCR};
\node[font=\fontsize{12.5}{14}\selectfont\hv] at (rel axis cs:0.943,0.904) {(c)};
\end{axis}

\path (-45pt,-17pt) rectangle (576pt,501pt);
\end{tikzpicture}
\end{document}
